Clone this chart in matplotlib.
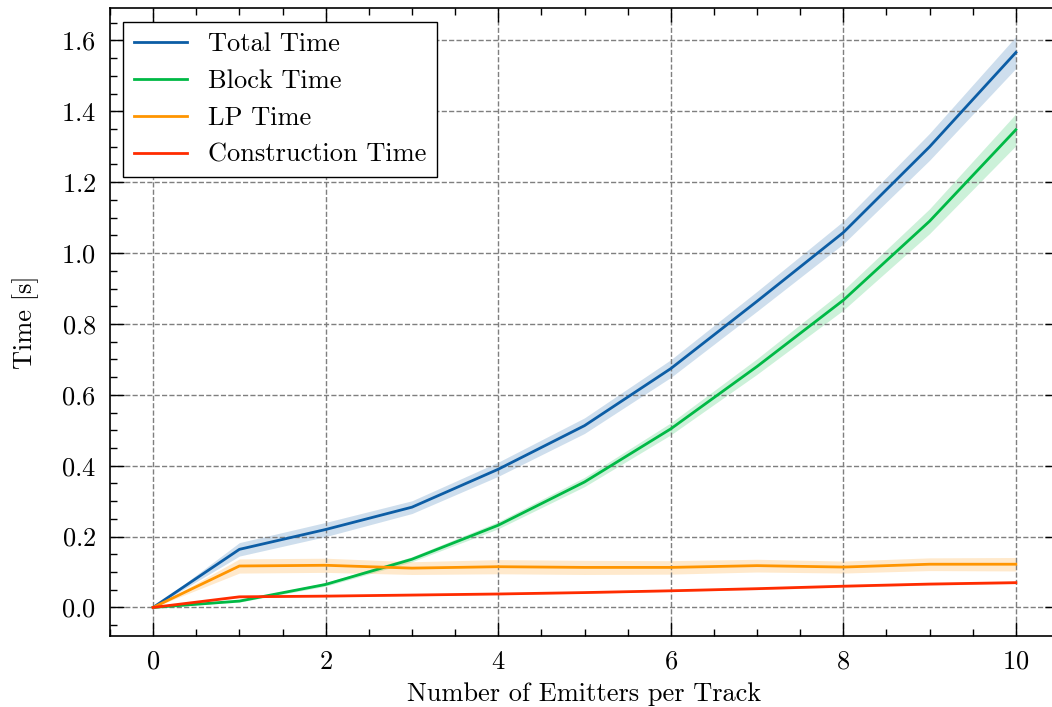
import numpy as np
import matplotlib
matplotlib.use("Agg")
import matplotlib.pyplot as plt
from matplotlib.ticker import MultipleLocator

# Data
emitters = [0, 1, 2, 3, 4, 5, 6, 7, 8, 9, 10]
total_time = [0.0, 0.164, 0.220, 0.283, 0.390, 0.513, 0.674, 0.864, 1.058, 1.300, 1.566]
total_std = [0.0, 0.019, 0.020, 0.018, 0.020, 0.022, 0.025, 0.028, 0.032, 0.038, 0.045]
block_time = [0.0, 0.018, 0.065, 0.136, 0.232, 0.354, 0.504, 0.680, 0.867, 1.090, 1.348]
block_std = [0.0, 0.003, 0.005, 0.007, 0.010, 0.013, 0.017, 0.022, 0.028, 0.035, 0.045]
lp_time = [0.0, 0.117, 0.119, 0.111, 0.115, 0.113, 0.113, 0.118, 0.114, 0.122, 0.122]
lp_std = [0.0, 0.020, 0.020, 0.018, 0.020, 0.020, 0.019, 0.018, 0.017, 0.018, 0.019]
constr_time = [0.0, 0.030, 0.032, 0.035, 0.038, 0.042, 0.047, 0.053, 0.060, 0.066, 0.070]
constr_std = [0.0, 0.002, 0.002, 0.002, 0.002, 0.002, 0.002, 0.003, 0.003, 0.003, 0.003]

series = [
    ("Total Time", total_time, total_std, "#0C5DA5"),
    ("Block Time", block_time, block_std, "#00B945"),
    ("LP Time", lp_time, lp_std, "#FF9500"),
    ("Construction Time", constr_time, constr_std, "#FF2C00"),
]

plt.rcParams["font.family"] = ["cmr10", "DejaVu Serif"]
plt.rcParams["axes.formatter.use_mathtext"] = True
plt.rcParams["font.size"] = 19

fig = plt.figure(figsize=(10.52, 7.07), dpi=100)
ax = fig.add_axes([110 / 1052, 71 / 707, (1059 - 110) / 1052, (636 - 8) / 707])

x = np.array(emitters)
for name, mean, std, color in series:
    m = np.array(mean)
    s = np.array(std)
    ax.fill_between(x, m - s, m + s, color=color, alpha=0.2, linewidth=0)
    ax.plot(x, m, color=color, lw=2.0, label=name)

ax.set_xlabel("Number of Emitters per Track", labelpad=6)
ax.set_ylabel("Time [s]", labelpad=16)
ax.xaxis.set_major_locator(MultipleLocator(2))
ax.xaxis.set_minor_locator(MultipleLocator(0.5))
ax.yaxis.set_major_locator(MultipleLocator(0.2))
ax.yaxis.set_minor_locator(MultipleLocator(0.05))
ax.tick_params(which="both", direction="in", top=True, right=True, width=1.0)
ax.tick_params(which="major", length=10, pad=10)
ax.tick_params(which="minor", length=5)
for sp in ax.spines.values():
    sp.set_linewidth(1.2)
ax.grid(True, which="major", linestyle="--", color="#7f7f7f", linewidth=1.0)

leg = ax.legend(loc="upper left", fancybox=False, edgecolor="black", framealpha=1,
                handlelength=2.0, borderpad=0.4, labelspacing=0.5, handletextpad=0.8,
                borderaxespad=0.5, bbox_to_anchor=(0.0, 0.999))
leg.get_frame().set_linewidth(1.0)

fig.savefig("out.png", dpi=100)
